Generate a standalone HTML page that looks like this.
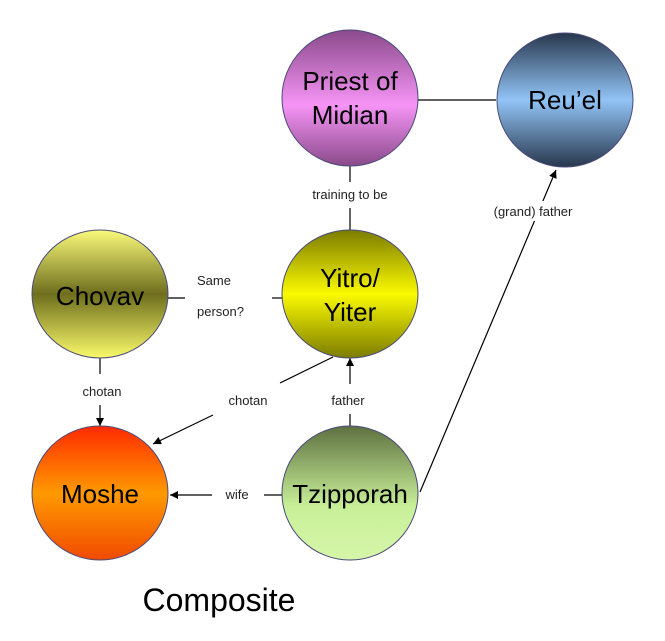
<!DOCTYPE html>
<html><head><meta charset="utf-8"><style>
html,body{margin:0;padding:0;background:#fff;}
svg{display:block;font-family:"Liberation Sans",sans-serif;}
</style></head><body>
<svg width="665" height="641" viewBox="0 0 665 641" xmlns="http://www.w3.org/2000/svg">
<defs>
<linearGradient id="gp" x1="0" y1="0" x2="0" y2="1"><stop offset="0" stop-color="#8a4a8a"/><stop offset="0.55" stop-color="#f694f6"/><stop offset="1" stop-color="#8a4a8a"/></linearGradient>
<linearGradient id="gr" x1="0" y1="0" x2="0" y2="1"><stop offset="0" stop-color="#27374d"/><stop offset="0.5" stop-color="#92c4f6"/><stop offset="1" stop-color="#27374d"/></linearGradient>
<linearGradient id="gc" x1="0" y1="0" x2="0" y2="1"><stop offset="0" stop-color="#fafa7a"/><stop offset="0.5" stop-color="#6e6e1e"/><stop offset="1" stop-color="#fafa6a"/></linearGradient>
<linearGradient id="gy" x1="0" y1="0" x2="0" y2="1"><stop offset="0" stop-color="#7c7c00"/><stop offset="0.5" stop-color="#fafa00"/><stop offset="1" stop-color="#7c7c00"/></linearGradient>
<linearGradient id="gm" x1="0" y1="0" x2="0" y2="1"><stop offset="0" stop-color="#ff2a00"/><stop offset="0.5" stop-color="#ff9a00"/><stop offset="1" stop-color="#f04a00"/></linearGradient>
<linearGradient id="gt" x1="0" y1="0" x2="0" y2="1"><stop offset="0" stop-color="#5e7040"/><stop offset="0.6" stop-color="#c8f098"/><stop offset="1" stop-color="#d6f6aa"/></linearGradient>
<marker id="ar" viewBox="0 0 10 10" refX="10" refY="5" markerWidth="8" markerHeight="8" orient="auto" markerUnits="userSpaceOnUse"><path d="M0,0 L10,5 L0,10 z" fill="#000"/></marker>
</defs>
<g stroke="#000" stroke-width="1.2" fill="none">
<line x1="418" y1="100" x2="496" y2="100"/>
<line x1="350" y1="166" x2="350" y2="182"/>
<line x1="350" y1="208" x2="350" y2="230"/>
<line x1="420" y1="492" x2="556" y2="170" marker-end="url(#ar)"/>
<line x1="168" y1="298" x2="185" y2="298"/>
<line x1="272" y1="298" x2="282" y2="298"/>
<line x1="100" y1="358" x2="100" y2="374"/>
<line x1="100" y1="405" x2="100" y2="426" marker-end="url(#ar)"/>
<line x1="333" y1="357" x2="280" y2="383"/>
<line x1="213" y1="415" x2="153" y2="444" marker-end="url(#ar)"/>
<line x1="350" y1="427" x2="350" y2="414"/>
<line x1="350" y1="384" x2="350" y2="358" marker-end="url(#ar)"/>
<line x1="282" y1="495" x2="264" y2="495"/>
<line x1="212" y1="495" x2="170" y2="495" marker-end="url(#ar)"/>
</g>
<rect x="478" y="201" width="110" height="20" fill="#fff"/>
<g stroke="#4a4a7a" stroke-width="1">
<ellipse cx="350" cy="98" rx="68" ry="68" fill="url(#gp)"/>
<ellipse cx="565" cy="100" rx="68" ry="67" fill="url(#gr)"/>
<ellipse cx="100" cy="294" rx="68" ry="64" fill="url(#gc)"/>
<ellipse cx="350" cy="294" rx="68" ry="64" fill="url(#gy)"/>
<ellipse cx="100" cy="493" rx="68" ry="67" fill="url(#gm)"/>
<ellipse cx="350" cy="493" rx="68" ry="67" fill="url(#gt)"/>
</g>
<g font-size="26" text-anchor="middle" fill="#000">
<text x="350" y="90">Priest of</text>
<text x="350" y="124">Midian</text>
<text x="565" y="109">Reu’el</text>
<text x="100" y="305">Chovav</text>
<text x="350" y="287">Yitro/</text>
<text x="350" y="321">Yiter</text>
<text x="100" y="503">Moshe</text>
<text x="350" y="503">Tzipporah</text>
</g>
<g font-size="13" fill="#222">
<text x="350" y="199" text-anchor="middle">training to be</text>
<text x="533" y="216" text-anchor="middle">(grand) father</text>
<text x="197" y="285">Same</text>
<text x="197" y="316">person?</text>
<text x="102" y="396" text-anchor="middle">chotan</text>
<text x="248" y="405" text-anchor="middle">chotan</text>
<text x="348" y="405" text-anchor="middle">father</text>
<text x="237" y="499" text-anchor="middle">wife</text>
</g>
<text x="219" y="611" font-size="32" text-anchor="middle" fill="#000">Composite</text>
</svg>
</body></html>
